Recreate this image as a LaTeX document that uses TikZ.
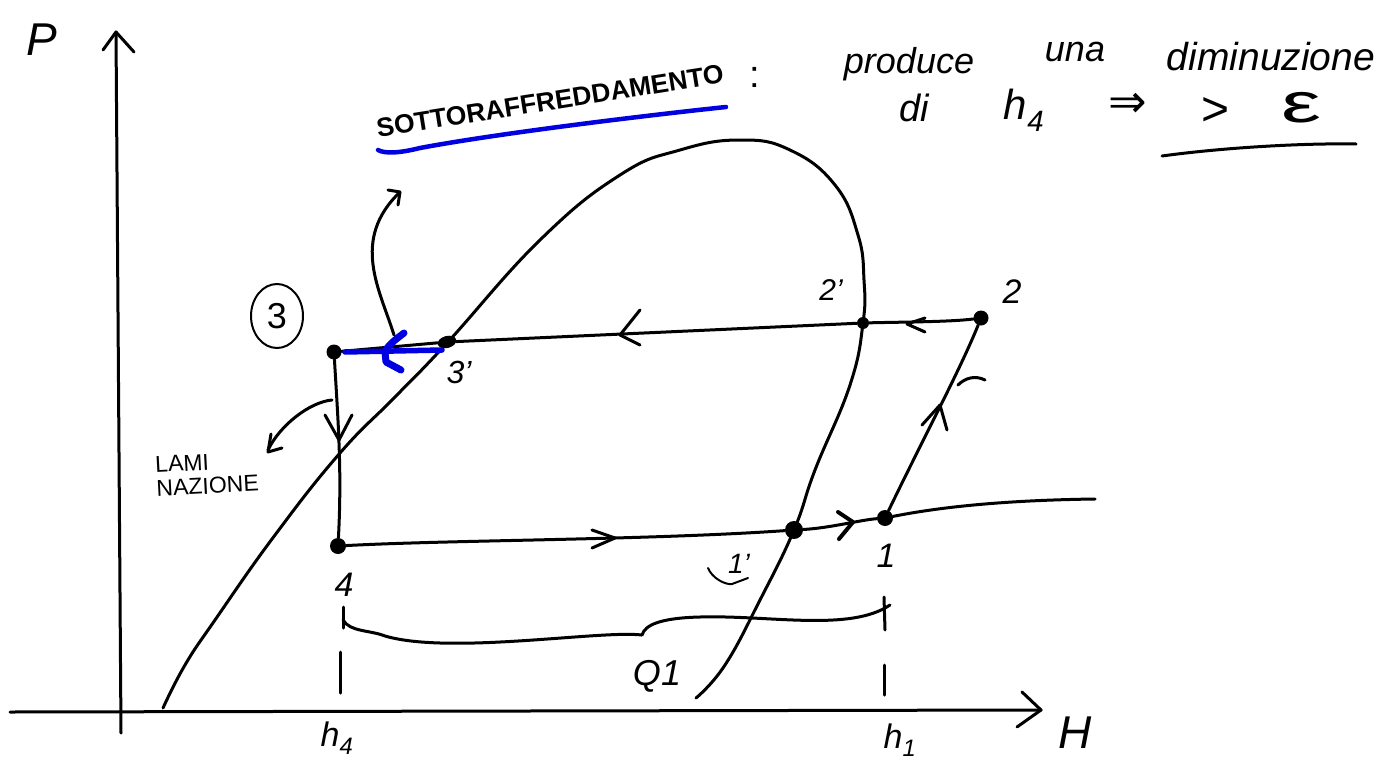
\documentclass[tikz,border=0pt]{standalone}
\usepackage{fontspec}
\usetikzlibrary{shapes.geometric}
\setmainfont{Liberation Sans}
\newfontfamily\symfont{DejaVu Sans}
\definecolor{penblue}{RGB}{0,0,225}
\begin{document}
\begin{tikzpicture}[x=1pt,y=-1pt,
  line cap=round,line join=round,
  ink/.style={draw=black,line width=3pt},
  thinink/.style={draw=black,line width=2pt},
  curve/.style={ink,smooth,tension=0.75},
  bluepen/.style={draw=penblue,line cap=round},
  dot/.style={circle,fill=black,inner sep=0pt,minimum size=#1},
  lab/.style={inner sep=0pt,font=\itshape\fontsize{#1}{#1}\selectfont},
  lab/.default=26]
\useasboundingbox (0,0) rectangle (1391,776);
\fill[white] (0,0) rectangle (1391,776);
% named points
\node[dot=15pt] (p3) at (334,352) {};
\node[ellipse,fill=black,inner sep=0pt,minimum width=19pt,minimum height=12pt,rotate=15] (p3b) at (447,342) {};
\node[dot=12pt] (p2b) at (863,323) {};
\node[dot=15pt] (p2) at (981,318) {};
\node[dot=16pt] (p1) at (885,518) {};
\node[dot=18pt] (p1b) at (794,530) {};
\node[dot=16pt] (p4) at (338,546) {};
\coordinate (yb) at (121,733); \coordinate (yt) at (116,32);
\coordinate (xl) at (10,712); \coordinate (xr) at (1041,710);
\coordinate (tail) at (1095,499);
% axes
\draw[ink] (yb) -- (yt);
\draw[ink] (103,50) -- (yt) -- (134,52);
\draw[ink] (xl) -- (xr);
\draw[ink] (1022,692) -- (xr) -- (1017,727);
% saturation dome
\draw[curve] plot coordinates {(163,708) (185,665) (215,620) (275,535) (340,453) (395,397) (447,343) (540,240) (620,175) (680,150) (740,140) (790,150) (835,185) (858,235) (864,280) (p2b) (850,385) (815,470) (p1b) (760,600) (725,665) (696,698)};
% cycle
\draw[ink] (p3) -- (p3b) -- (p2b);
\draw[ink] (p2b) .. controls (900,322) and (950,322) .. (p2);
\draw[ink] (p2) .. controls (960,370) and (925,435) .. (p1);
\draw[ink] (p1) .. controls (950,505) and (1020,500) .. (tail);
\draw[ink] (p1) .. controls (860,520) and (830,528) .. (p1b);
\draw[ink] (p1b) .. controls (650,540) and (450,540) .. (p4);
\draw[ink] (p3) .. controls (338,420) and (342,470) .. (p4);
% cycle chevrons
\draw[ink] (640,310) -- (620,335) -- (640,345);
\draw[ink] (925,318) -- (907,324) -- (925,332);
\draw[ink] (922,425) -- (940,405) -- (947,430);
\draw[ink] (958,385) .. controls (965,378) and (975,375) .. (985,380);
\draw[ink] (592,530) -- (615,538) -- (592,548);
\draw[ink,line width=4pt] (838,512) -- (853,522) -- (839,539);
\draw[ink] (325,415) -- (339,440) -- (352,415);
% blue
\draw[bluepen,line width=5.5pt] (345,352) -- (442,350);
\draw[bluepen,line width=7pt] (404,333) .. controls (395,340) and (388,345) .. (385,352) -- (386,362) -- (401,370);
\draw[bluepen,line width=4.5pt] (378,150) .. controls (385,154) and (400,153) .. (420,148) .. controls (500,133) and (650,115) .. (726,107);
% callout arrows
\coordinate (cal) at (394,335);
\draw[ink] (cal) .. controls (380,290) and (350,240) .. (400,192);
\draw[ink] (388,190) -- (400,192) -- (398,205);
\coordinate (lam) at (332,400);
\draw[ink] (lam) .. controls (310,402) and (280,425) .. (268,450);
\draw[ink] (271,434) -- (268,452) -- (282,448);
% brace and ticks
\draw[ink] (343,620) .. controls (350,632) and (370,630) .. (385,636) .. controls (450,655) and (600,630) .. (642,635);
\draw[ink] (642,635) .. controls (645,625) and (660,618) .. (700,617) .. controls (770,615) and (850,632) .. (890,605);
\draw[ink] (884,597) -- (885,630);
\draw[ink] (343,607) -- (343,628);
\draw[ink] (340,652) -- (340,693);
\draw[ink] (884,665) -- (884,695);
\draw[thinink] (708,568) .. controls (712,578) and (725,585) .. (732,584) -- (748,578);
\draw[ink] (1162,156) .. controls (1220,148) and (1300,143) .. (1356,144);
% circle round 3
\node[ellipse,draw=black,line width=2pt,minimum width=52pt,minimum height=64pt,inner sep=0pt,lab=36] (c3) at (277,316) {\upshape 3};
% labels
\node[lab=46] (lP) at (42,40) {P};
\node[lab=34] (lh4) at (337,738) {h\textsubscript{4}};
\node[lab=34] (lh1) at (900,740) {h\textsubscript{1}};
\node[lab=46] (lH) at (1075,733) {H};
\node[lab=34] (l4) at (344,585) {4};
\node[lab=34] (l1) at (886,556) {1};
\node[lab=28] (l1b) at (739,564) {1'};
\node[lab=36] (lQ) at (657,676) {Q1};
\node[lab=32] (l3b) at (459,372) {3'};
\node[lab=30] (l2b) at (831,290) {2'};
\node[lab=34] (l2) at (1012,292) {2};
\node[lab=23,rotate=3,align=left] (lLam) at (207,474) {\upshape LAMI\\[1pt]\upshape NAZIONE};
\node[lab=26,rotate=9,font=\bfseries\fontsize{26.5}{26.5}\selectfont] (lSott) at (550,101) {SOTTORAFFREDDAMENTO};
\node[lab=38] (lc) at (755,77) {\upshape :};
\node[lab=36] (lw1) at (909,64) {produce};
\node[lab=36] (lw2) at (1075,52) {una};
\node[lab=39] (lw3) at (1271,57) {diminuzione};
\node[lab=38] (lw4) at (914,108) {di};
\node[lab=42] (lw5) at (1024,110) {h\textsubscript{4}};
\node[lab=46] (lw6) at (1128,105) {\symfont ⇒};
\node[lab=48] (lw7) at (1215,112) {\upshape >};
\node[lab=56,xscale=1.6] (lw8) at (1301,108) {\upshape ε};
\end{tikzpicture}
\end{document}
